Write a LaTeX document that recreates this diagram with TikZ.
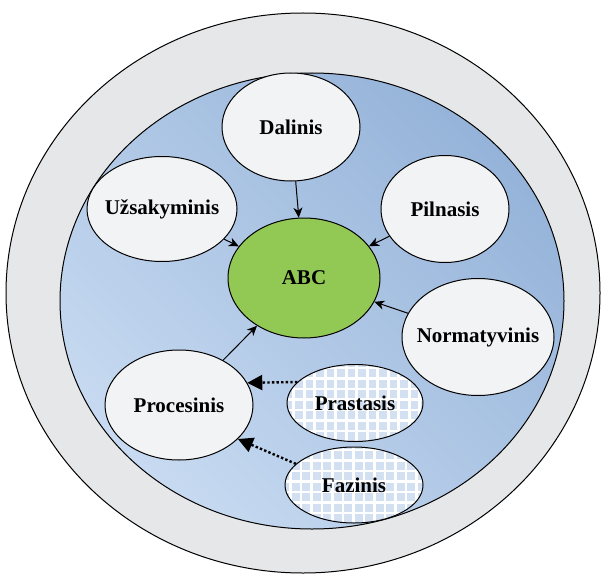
\documentclass[tikz,border=0pt]{standalone}
\usepackage{fontspec}
\setmainfont{Liberation Serif}
\usepackage{xcolor}
\usetikzlibrary{shapes.geometric,arrows.meta}

\definecolor{ringgray}{HTML}{E6E7E8}
\definecolor{bluelight}{HTML}{C7DAF1}
\definecolor{bluedark}{HTML}{95B3D9}
\definecolor{nodewhite}{HTML}{F2F3F5}
\definecolor{abcgreen}{HTML}{92C854}
\definecolor{gridblue}{HTML}{D3E0F2}

\begin{document}
\begin{tikzpicture}[x=1pt,y=-1pt,
    every node/.style={font=\fontsize{21}{24}\selectfont\bfseries},
    oval/.style={ellipse,draw,line width=1pt,fill=nodewhite,inner sep=-12pt},
    gridoval/.style={ellipse,draw,line width=1pt,inner sep=-12pt,
        path picture={
            \fill[gridblue] (path picture bounding box.south west) rectangle (path picture bounding box.north east);
            \draw[white,line width=2.6pt,step=10.5pt] (path picture bounding box.south west) grid (path picture bounding box.north east);
        }},
    solidarrow/.style={line width=1pt,-{Stealth[length=10pt,width=9pt,inset=3pt]}},
    dotarrow/.style={line width=2.4pt,dash pattern=on 2.4pt off 2.2pt,-{Triangle[length=15pt,width=15pt]}}]
        \useasboundingbox (0,0) rectangle (602,575);
        % outer ring and inner field
        \draw[line width=1pt,fill=ringgray] (303,293) ellipse [x radius=297pt,y radius=280pt];
        \shade[left color=bluelight,right color=bluedark,shading angle=135] (312,301) ellipse [x radius=252pt,y radius=228pt];
        \draw[line width=1pt] (312,301) ellipse [x radius=252pt,y radius=228pt];
        % nodes
        \node[oval,minimum width=138pt,minimum height=108pt] (dalinis) at (291,127) {Dalinis};
        \node[oval,minimum width=150pt,minimum height=105pt] (uzsak) at (162,209) {Užsakyminis};
        \node[oval,minimum width=128pt,minimum height=107pt] (pilnasis) at (445,209) {Pilnasis};
        \node[oval,fill=abcgreen,minimum width=152pt,minimum height=120pt] (abc) at (304,278) {ABC};
        \node[oval,minimum width=152pt,minimum height=117pt] (normat) at (478,337) {Normatyvinis};
        \node[oval,minimum width=148pt,minimum height=110pt] (proces) at (179,405) {Procesinis};
        \node[gridoval,minimum width=136pt,minimum height=77pt] (prast) at (355,403) {Prastasis};
        \node[gridoval,minimum width=138pt,minimum height=76pt] (fazinis) at (354,485) {Fazinis};
        % connectors
        \draw[solidarrow] (dalinis) -- (abc);
        \draw[solidarrow] (uzsak) -- (abc);
        \draw[solidarrow] (pilnasis) -- (abc);
        \draw[solidarrow] (normat) -- (abc);
        \draw[solidarrow] (proces) -- (abc);
        \draw[dotarrow] (prast.160) -- (proces.18);
        \draw[dotarrow] (fazinis.160) -- (proces.-30);
\end{tikzpicture}
\end{document}
